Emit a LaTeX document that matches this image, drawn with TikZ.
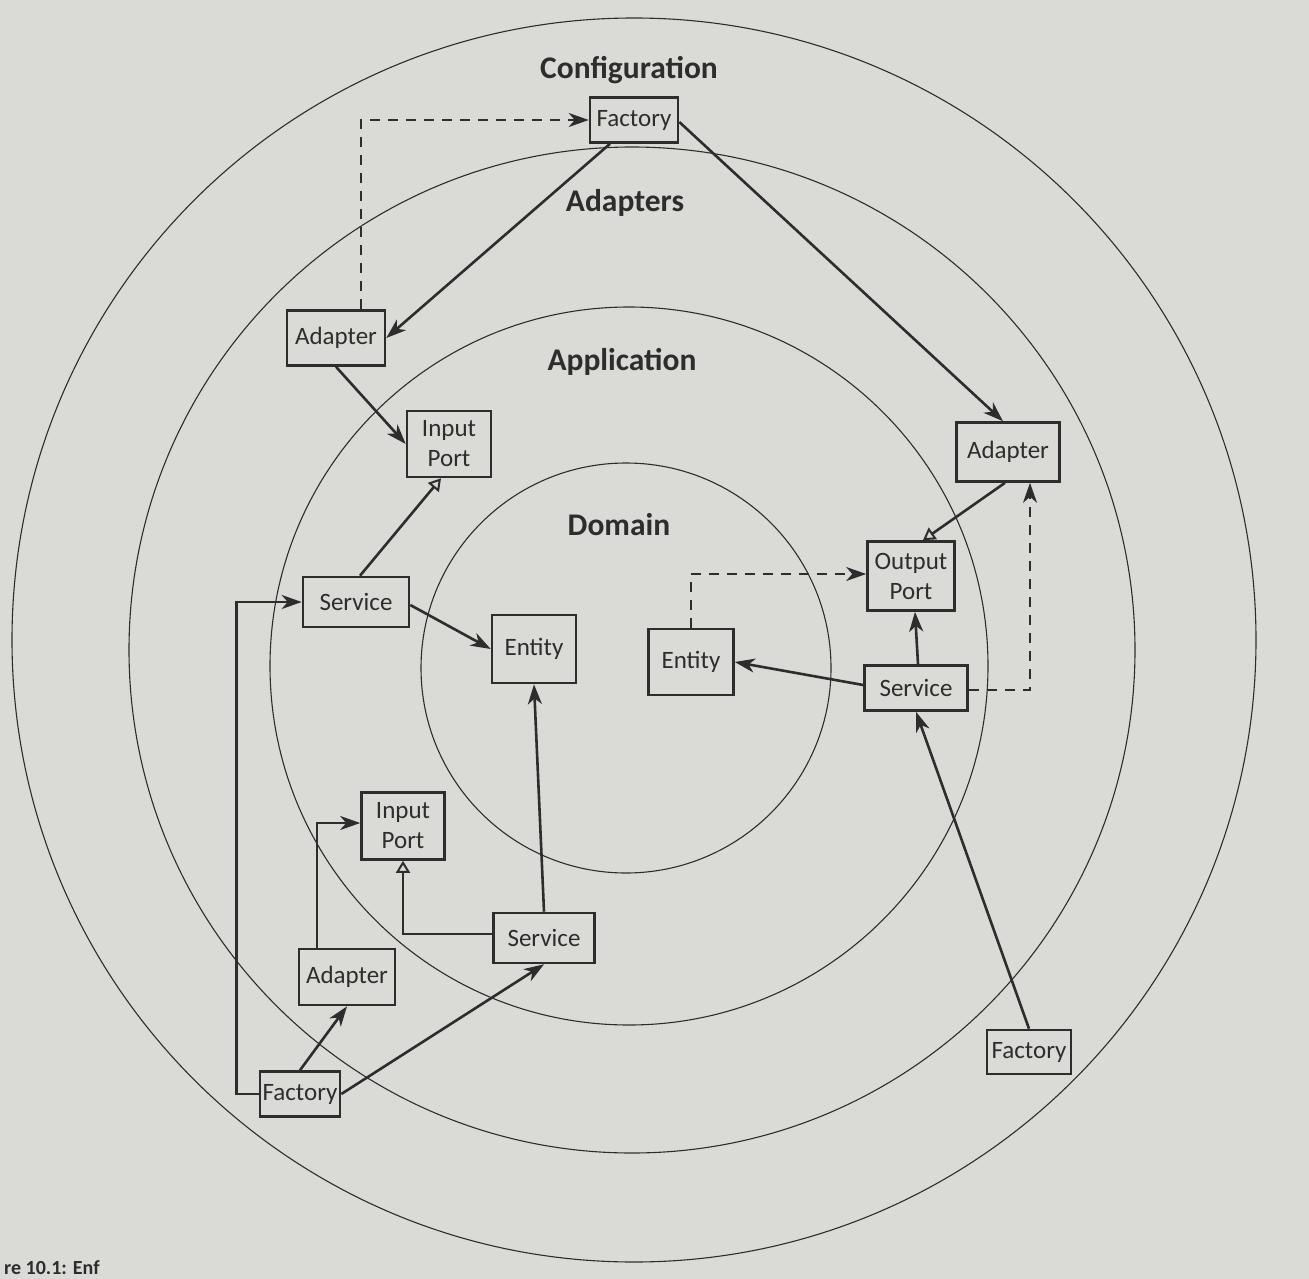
\documentclass[tikz,border=0pt]{standalone}
\usepackage{fontspec}
\setmainfont{Carlito}
\usetikzlibrary{arrows.meta,calc}
\definecolor{paper}{RGB}{218,218,214}
\definecolor{ink}{RGB}{45,45,45}
\begin{document}
\begin{tikzpicture}[x=1pt,y=-1pt,
  box/.style={draw=ink,line width=2.6pt,inner sep=0pt,align=center,text=ink,
    font=\fontsize{25}{30}\selectfont},
  ring/.style={draw=ink,line width=1.1pt},
  layer/.style={text=ink,font=\fontsize{31.5}{36}\selectfont\bfseries},
  conn/.style={draw=ink,line width=2.6pt,-{Stealth[length=20pt,width=14pt,inset=6pt]}},
  dconn/.style={conn,line width=2pt,dash pattern=on 10pt off 8pt},
  impl/.style={draw=ink,line width=2.6pt,-{Triangle[open,length=12pt,width=14pt,line width=2pt]}}
]
\useasboundingbox[fill=paper] (0,0) rectangle (1309,1279);

% rings
\draw[ring] (634,640) circle[radius=622pt];
\draw[ring] (632,650) circle[radius=503pt];
\draw[ring] (629,666) circle[radius=359pt];
\draw[ring] (626,668) circle[radius=205pt];

% layer labels
\node[layer] (lconf) at (629,70) {Configuration};
\node[layer] (ladap) at (625,203) {Adapters};
\node[layer] (lappl) at (622,362) {Application};
\node[layer] (ldom)  at (619,525) {Domain};

% boxes
\node[box,minimum width=88pt,minimum height=45pt] (facT) at (634,120) {Factory};
\node[box,minimum width=98pt,minimum height=55pt] (adL) at (336,338) {Adapter};
\node[box,minimum width=84pt,minimum height=66pt] (inP1) at (449,444) {Input\\Port};
\node[box,minimum width=103pt,minimum height=59pt] (adR) at (1008,452) {Adapter};
\node[box,minimum width=87pt,minimum height=69pt] (outP) at (911,576) {Output\\Port};
\node[box,minimum width=106pt,minimum height=50pt] (svL) at (356,602) {Service};
\node[box,minimum width=84pt,minimum height=68pt] (entL) at (534,649) {Entity};
\node[box,minimum width=85pt,minimum height=66pt] (entR) at (691,662) {Entity};
\node[box,minimum width=103pt,minimum height=45pt] (svR) at (916,688) {Service};
\node[box,minimum width=83pt,minimum height=67pt] (inP2) at (403,826) {Input\\Port};
\node[box,minimum width=101pt,minimum height=50pt] (svB) at (544,938) {Service};
\node[box,minimum width=96pt,minimum height=56pt] (adB) at (347,977) {Adapter};
\node[box,minimum width=80pt,minimum height=45pt] (facBL) at (300,1094) {Factory};
\node[box,minimum width=84pt,minimum height=44pt] (facR) at (1029,1052) {Factory};

% connectors
\draw[dconn] ([xshift=25pt]adL.north) |- (facT.west);
\draw[conn] ([xshift=-24pt]facT.south) -- (adL.east);
\draw[conn] ([yshift=-2pt]facT.east) -- ([xshift=-5pt]adR.north);
\draw[conn] (adL.south) -- (inP1.west);
\draw[impl] ([xshift=4pt]svL.north) -- ([xshift=-8pt]inP1.south);
\draw[conn] ([yshift=-3pt]svL.east) -- (entL.west);
\draw[conn] (facBL.west) -- ++(-22,0) |- (svL.west);
\draw[conn] (facBL.north) -- (adB.south);
\draw[conn] (facBL.east) -- (svB.south);
\draw[conn] ([xshift=-30pt]adB.north) |- ([yshift=3pt]inP2.west);
\draw[impl] ([yshift=4pt]svB.west) -| (inP2.south);
\draw[conn] (svB.north) -- (entL.south);
\draw[dconn] (entR.north) |- ([yshift=2pt]outP.west);
\draw[conn] ([yshift=3pt]svR.west) -- (entR.east);
\draw[conn] ([xshift=2pt]svR.north) -- ([xshift=4pt]outP.south);
\draw[dconn] ([yshift=-2pt]svR.east) -| ([xshift=22pt]adR.south);
\draw[impl] ([xshift=-3pt]adR.south) -- ([xshift=12pt]outP.north);
\draw[conn] (facR.north) -- (svR.south);

% caption fragment
\node[anchor=base west,inner sep=0pt,text=ink,font=\fontsize{20}{24}\selectfont\bfseries] (cap) at (4,1274) {re 10.1: Enf};
\end{tikzpicture}
\end{document}
